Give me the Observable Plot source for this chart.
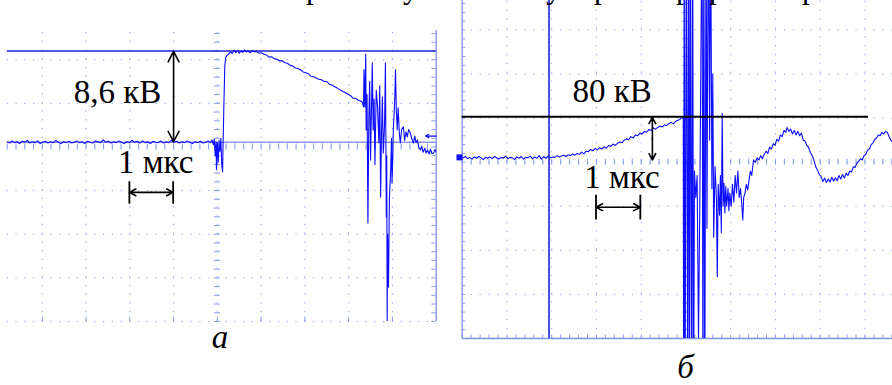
<!DOCTYPE html>
<html><head><meta charset="utf-8">
<script src="https://cdn.jsdelivr.net/npm/d3@7"></script>
<script src="https://cdn.jsdelivr.net/npm/@observablehq/plot@0.6"></script>
<style>
html,body{margin:0;padding:0;background:#fff;}
#wrap{position:relative;width:892px;height:385px;overflow:hidden;background:#fff;}
#wrap svg{position:absolute;left:0;top:0;}
#wrap svg text{font-family:"Liberation Serif","Times New Roman",serif !important;}
.frag{position:absolute;top:-28px;font-family:"Liberation Serif","Times New Roman",serif;font-size:31px;line-height:31px;color:#000;}
</style></head><body><div id="wrap"></div>
<script>
// ---- Panel а: time in µs (1 div = 1 µs), voltage in screen divisions ----
const aT = [0.20,0.26,0.31,0.37,0.43,0.48,0.54,0.60,0.66,0.71,0.77,0.83,0.89,0.95,1.01,1.07,1.13,1.19,1.25,1.31,1.37,1.43,1.49,1.55,1.61,1.67,1.73,1.79,1.85,1.91,1.97,2.03,2.09,2.15,2.21,2.27,2.33,2.39,2.45,2.51,2.57,2.63,2.69,2.75,2.81,2.87,2.93,2.99,3.05,3.11,3.17,3.23,3.29,3.35,3.41,3.47,3.53,3.59,3.65,3.71,3.77,3.83,3.89,3.95,4.01,4.07,4.13,4.19,4.25,4.31,4.37,4.43,4.49,4.55,4.61,4.67,4.73,4.79,4.84,4.88,
4.91,4.93,4.95,4.97,4.98,5.00,5.02,5.04,5.06,5.08,5.10,5.12,5.13,5.15,5.17,5.19,5.22,5.26,5.30,5.34,5.38,5.42,5.46,5.50,5.54,5.58,5.62,5.66,5.70,5.75,5.80,5.85,5.90,5.95,6.00,6.06,6.12,6.18,6.24,6.30,6.36,6.42,6.48,6.54,6.60,6.66,6.72,6.78,6.84,6.90,6.96,7.02,7.08,7.14,7.20,7.26,7.32,7.38,7.44,7.50,7.56,7.62,7.68,7.74,7.80,7.86,7.92,7.98,8.04,8.10,8.16,8.22,8.28,8.31,
8.34,8.35,8.37,8.39,8.40,8.42,8.44,8.46,8.48,8.50,8.52,8.54,8.56,8.58,8.60,8.63,8.66,8.69,8.71,8.73,8.75,8.77,8.79,8.82,8.84,8.86,8.87,8.88,8.89,8.91,8.93,8.96,8.98,8.99,9.01,9.02,9.05,9.07,9.09,9.11,9.13,9.14,9.16,9.18,9.21,9.25,9.28,9.31,9.34,9.37,9.41,9.44,9.48,9.51,9.54,9.57,9.60,9.64,9.67,9.70,9.74,9.77,9.80,9.84,9.87,9.90,9.94,9.97,10.0];
const aV = [0.12,0.09,0.14,0.10,0.12,0.08,0.13,0.11,0.15,0.09,0.12,0.10,0.14,0.08,0.11,0.13,0.09,0.12,0.10,0.15,0.11,0.08,0.12,0.10,0.13,0.09,0.11,0.14,0.10,0.12,0.08,0.13,0.11,0.09,0.14,0.12,0.10,0.16,0.11,0.13,0.09,0.12,0.10,0.14,0.11,0.08,0.12,0.10,0.15,0.11,0.13,0.09,0.14,0.10,0.12,0.08,0.13,0.11,0.10,0.14,0.09,0.12,0.10,0.15,0.11,0.13,0.09,0.12,0.10,0.14,0.11,0.08,0.12,0.10,0.13,0.09,0.11,0.14,0.10,0.16,
0.05,0.18,-0.20,0.12,-0.52,0.10,-0.35,0.15,-0.10,0.20,-0.40,-0.57,0.02,1.00,1.85,2.05,2.10,2.13,2.18,2.14,2.22,2.16,2.21,2.15,2.20,2.17,2.22,2.18,2.20,2.16,2.21,2.18,2.19,2.15,2.16,2.13,2.11,2.06,2.07,2.02,2.01,1.97,1.98,1.93,1.92,1.87,1.86,1.81,1.80,1.77,1.72,1.70,1.68,1.62,1.61,1.58,1.55,1.54,1.50,1.50,1.44,1.42,1.38,1.35,1.31,1.28,1.25,1.21,1.18,1.12,1.11,1.07,1.05,1.03,
0.92,1.77,0.92,2.13,0.39,1.20,-1.74,0.60,1.50,-0.30,0.80,1.93,0.39,1.10,-0.40,1.30,0.92,0.10,1.40,-1.15,0.30,1.15,-0.14,0.50,1.93,-1.61,-0.20,-3.99,-2.00,-3.21,-1.20,-0.53,0.20,-0.83,-0.20,0.39,1.00,1.77,0.80,0.39,0.90,0.69,0.30,0.09,0.40,0.46,0.15,0.35,0.23,0.40,0.32,0.20,0.09,0.25,0.10,0.16,0.00,-0.07,0.02,-0.12,-0.03,-0.14,-0.07,-0.16,-0.05,-0.15,-0.14,-0.06,-0.12];

// ---- Panel б: pre-discharge rise, breakdown burst, recovery ----
const b1T = [0.02,0.07,0.12,0.17,0.22,0.27,0.32,0.37,0.42,0.47,0.52,0.57,0.62,0.67,0.72,0.77,0.82,0.87,0.92,0.97,1.02,1.07,1.12,1.17,1.22,1.27,1.32,1.37,1.42,1.47,1.52,1.57,1.62,1.67,1.72,1.77,1.82,1.87,1.92,1.97,2.02,2.07,2.12,2.17,2.22,2.27,2.32,2.37,2.42,2.47,2.52,2.57,2.62,2.67,2.72,2.77,2.82,2.87,2.92,2.97,3.02,3.07,3.12,3.17,3.22,3.27,3.32,3.37,3.42,3.47,3.52,3.57,3.62,3.67,3.72,3.77,3.82,3.87,3.92,3.97,4.02,4.07,4.12,4.17,4.22,4.27,4.32,4.37,4.42,4.47,4.52,4.57,4.62,4.67,4.72,4.77,4.82,4.86,4.90,4.94];
const b1V = [0.10,0.13,0.08,0.11,0.07,0.12,0.09,0.13,0.10,0.06,0.11,0.09,0.12,0.08,0.13,0.10,0.07,0.11,0.09,0.14,0.08,0.11,0.10,0.06,0.12,0.09,0.13,0.07,0.11,0.10,0.14,0.08,0.12,0.09,0.15,0.07,0.13,0.09,0.14,0.10,0.12,0.11,0.15,0.12,0.14,0.16,0.13,0.17,0.15,0.19,0.16,0.20,0.18,0.23,0.19,0.25,0.24,0.29,0.26,0.31,0.28,0.33,0.30,0.35,0.32,0.38,0.36,0.41,0.38,0.43,0.46,0.44,0.50,0.53,0.51,0.58,0.55,0.62,0.60,0.66,0.64,0.70,0.68,0.74,0.72,0.78,0.75,0.79,0.82,0.80,0.85,0.83,0.88,0.90,0.87,0.93,0.95,0.97,1.00,1.03];
const b2T = [4.95,4.96,4.98,5.01,5.04,5.06,5.08,5.10,5.13,5.15,5.17,5.19,5.22,5.25,5.28,5.31,5.36,5.38,5.40,5.42,5.45,5.47,5.50,5.53,5.55,5.58,5.60,5.62,5.65,5.68,5.70,5.72,5.75,5.77,5.79,5.81,5.83,5.85,5.87,5.89,5.91,5.94,5.96,5.98,6.01,6.04,6.07,6.10,6.13,6.16,6.19,6.22,6.25,6.27,6.29,6.32,6.35,6.38,6.41,6.44,6.47];
const b2V = [-6,6,-6,6,-6,6,-6,6,-6,6,-6,-0.2,-0.8,-0.3,-4.0,-0.9,6,-6,6,-6,6,-1.5,6,0.5,6,-0.6,2.0,-1.7,-0.1,-0.8,-2.6,-0.5,-1.2,-0.3,-1.6,1.11,-1.0,-0.48,-1.15,-0.55,-1.0,-0.6,-1.1,-0.7,-1.0,-0.5,-0.9,-0.3,-0.7,-0.2,-0.8,-0.6,-1.0,-1.31,-0.8,-0.7,-0.5,-0.63,-0.4,-0.2,-0.3];
const b3T = [6.51,6.55,6.59,6.63,6.67,6.71,6.75,6.79,6.83,6.87,6.91,6.95,6.99,7.03,7.07,7.11,7.15,7.19,7.23,7.26,7.30,7.34,7.38,7.42,7.46,7.50,7.54,7.58,7.62,7.66,7.70,7.74,7.78,7.82,7.86,7.90,7.94,7.98,8.02,8.06,8.10,8.14,8.18,8.22,8.26,8.30,8.34,8.38,8.42,8.46,8.50,8.54,8.58,8.62,8.66,8.70,8.74,8.78,8.82,8.86,8.90,8.94,8.98,9.02,9.06,9.10,9.14,9.18,9.22,9.26,9.30,9.34,9.38,9.42,9.46,9.50,9.54,9.58,9.62,9.70];
const b3V = [0.05,0.00,0.10,0.05,0.15,0.08,0.18,0.25,0.20,0.34,0.30,0.42,0.38,0.52,0.48,0.62,0.58,0.72,0.68,0.79,0.70,0.75,0.64,0.72,0.62,0.70,0.60,0.66,0.50,0.48,0.38,0.34,0.22,0.15,0.05,-0.10,-0.18,-0.28,-0.32,-0.44,-0.36,-0.46,-0.38,-0.45,-0.34,-0.43,-0.35,-0.42,-0.30,-0.38,-0.28,-0.36,-0.25,-0.30,-0.20,-0.22,-0.10,-0.12,-0.02,0.02,0.08,0.05,0.15,0.18,0.28,0.30,0.40,0.44,0.52,0.55,0.62,0.60,0.68,0.64,0.70,0.68,0.58,0.50,0.45,0.38];
const bT = [...b1T, ...b2T, ...b3T];
const bV = [...b1V, ...b2V, ...b3V];

const labelsA = ["8,6 кВ", "1 мкс", "а"];
const labelsB = ["80 кВ", "1 мкс", "б"];
const fragments = ["р","у","у","р","р","р","р"];

// ---- styles ----
const BLUE = "#0d0dff";
const CURSOR = "#1f1fd9";
const GRID = "#8a9ded";
const FONT = "'Liberation Serif', 'Times New Roman', serif";

const ptsA = aT.map((t, i) => ({t, v: aV[i]}));
const ptsB = bT.map((t, i) => ({t, v: bV[i]}));

function dblArrow(x1, y1, x2, y2) {
  const mx = (x1 + x2) / 2, my = (y1 + y2) / 2;
  const o = {stroke: "black", strokeWidth: 1.6, headLength: 11, headAngle: 55};
  return [
    Plot.arrow([0], {x1: mx, y1: my, x2: x1, y2: y1, ...o}),
    Plot.arrow([0], {x1: mx, y1: my, x2: x2, y2: y2, ...o})
  ];
}
const textOpts = {fontFamily: FONT, fontSize: 33, fill: "black", textAnchor: "middle", lineAnchor: "middle"};

// ---------- Panel а ----------
const tickXA = d3.range(0, 10.001, 0.2);
const tickYA = d3.range(-4, 2.68, 0.2);
const plotA = Plot.plot({
  width: 437, height: 385, marginLeft: 0, marginRight: 1, marginTop: 30, marginBottom: 64,
  x: {domain: [0, 10], range: [-2, 435.7], axis: null},
  y: {domain: [-4, 2.67], range: [321, 30], axis: null},
  style: {background: "transparent", overflow: "visible", fontFamily: FONT},
  marks: [
    Plot.ruleX([1,2,3,4,5,6,7,8,9], {y1: -4, y2: 2.67, stroke: GRID, strokeDasharray: "1.2,7.52"}),
    Plot.ruleY([-4,-3,-2,-1,0,1,2], {x1: 0, x2: 10, stroke: GRID, strokeDasharray: "1.2,7.55"}),
    Plot.ruleX([10], {y1: -4, y2: 2.67, stroke: "#6f86e3", strokeWidth: 1.2}),
    Plot.ruleY(tickYA, {x1: 4.93, x2: 5.07, stroke: GRID}),
    Plot.ruleX(tickXA, {y1: -0.07, y2: 0.07, stroke: GRID}),
    Plot.ruleY(tickYA, {x1: 9.9, x2: 10, stroke: GRID}),
    Plot.ruleX([1,2,3,4,5,6,7,8,9], {y1: -4, y2: -3.9, stroke: GRID}),
    Plot.ruleY([2.20], {x1: 0.2, x2: 10, stroke: CURSOR, strokeWidth: 1.6}),
    Plot.ruleY([0.11], {x1: 0.2, x2: 10, stroke: "#5565e6", strokeWidth: 1}),
    Plot.line(ptsA, {x: "t", y: "v", stroke: BLUE, strokeWidth: 1.1, clip: true}),
    Plot.arrow([0], {x1: 10, y1: 0.25, x2: 9.76, y2: 0.25, stroke: BLUE, strokeWidth: 1.2, headLength: 5}),
    ...dblArrow(4.0, 2.19, 4.0, 0.12),
    ...dblArrow(2.99, -1.04, 3.99, -1.04),
    Plot.ruleX([2.99, 3.99], {y1: -0.8, y2: -1.31, stroke: "black", strokeWidth: 1.8}),
    Plot.text([labelsA[0]], {text: d => d, x: 2.72, y: 1.24, ...textOpts}),
    Plot.text([labelsA[1]], {text: d => d, x: 3.59, y: -0.365, ...textOpts}),
    Plot.text([labelsA[2]], {text: d => d, x: 5.06, y: -4.36, ...textOpts, fontStyle: "italic"})
  ]
});

// ---------- Panel б ----------
const tickXB = d3.range(0, 10.001, 0.2);
const tickYB = d3.range(-4, 3.68, 0.2);
const plotB = Plot.plot({
  width: 892, height: 385, marginLeft: 461, marginRight: 0, marginTop: 0, marginBottom: 47,
  x: {domain: [0, 10], range: [461.7, 909.2], axis: null},
  y: {domain: [-4, 3.67], range: [338, 0], axis: null},
  style: {background: "transparent", overflow: "visible", fontFamily: FONT},
  marks: [
    Plot.ruleX([1,2,3,4,5,6,7,8,9], {y1: -4, y2: 3.67, stroke: GRID, strokeDasharray: "1.2,7.64"}),
    Plot.ruleY([-3,-2,-1,0,1,2,3], {x1: 0, x2: 10, stroke: GRID, strokeDasharray: "1.2,7.75"}),
    Plot.ruleX([0], {y1: -4, y2: 3.67, stroke: "#7d93e6", strokeWidth: 1.3}),
    Plot.ruleY([-4], {x1: 0, x2: 10, stroke: "#7d93e6", strokeWidth: 1.3}),
    Plot.ruleY(tickYB, {x1: 0, x2: 0.08, stroke: GRID}),
    Plot.ruleX(tickXB, {y1: -4, y2: -3.92, stroke: GRID}),
    Plot.ruleY(tickYB, {x1: 4.93, x2: 5.07, stroke: GRID}),
    Plot.ruleX(tickXB, {y1: -0.07, y2: 0.07, stroke: GRID}),
    Plot.ruleX([1.94], {y1: -4, y2: 3.67, stroke: CURSOR, strokeWidth: 1.6}),
    Plot.line(ptsB, {x: "t", y: "v", stroke: BLUE, strokeWidth: 1.1, clip: true}),
    Plot.dot([{t: -0.06, v: 0.11}], {x: "t", y: "v", symbol: "square", r: 3.4, fill: BLUE}),
    Plot.ruleY([1.03], {x1: 0, x2: 9.08, stroke: "black", strokeWidth: 2}),
    ...dblArrow(4.25, 1.02, 4.25, 0.05),
    ...dblArrow(2.99, -1.02, 3.98, -1.02),
    Plot.ruleX([2.99, 3.98], {y1: -0.75, y2: -1.31, stroke: "black", strokeWidth: 1.8}),
    Plot.text([labelsB[0]], {text: d => d, x: 3.35, y: 1.61, ...textOpts}),
    Plot.text([labelsB[1]], {text: d => d, x: 3.57, y: -0.35, ...textOpts}),
    Plot.text([labelsB[2]], {text: d => d, x: 4.99, y: -4.66, ...textOpts, fontStyle: "italic"})
  ]
});

const wrap = document.getElementById("wrap");
wrap.appendChild(plotB);
wrap.appendChild(plotA);

// descenders of the cut-off text line above the figure
const fragX = [306, 403, 546, 594, 676, 709, 802];
fragments.forEach((g, i) => {
  const s = document.createElement("span");
  s.className = "frag";
  s.textContent = g;
  s.style.left = fragX[i] + "px";
  wrap.appendChild(s);
});
</script></body></html>
